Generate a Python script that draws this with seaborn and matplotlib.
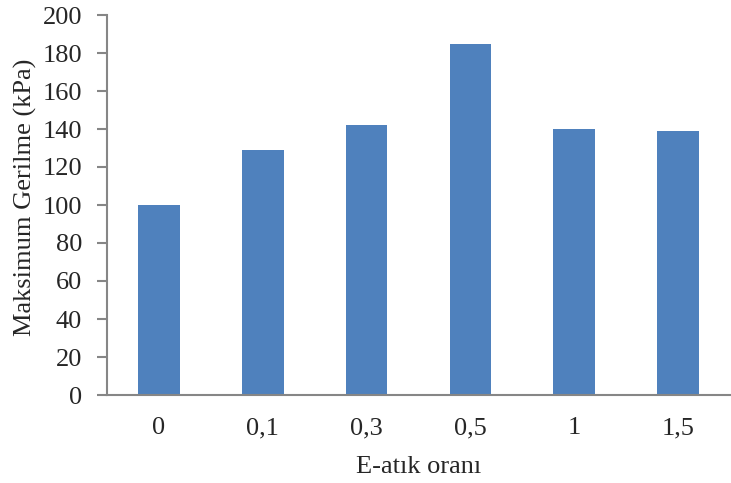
import matplotlib
matplotlib.use("Agg")
import matplotlib.pyplot as plt
import seaborn as sns
import pandas as pd

oranlar = ["0", "0,1", "0,3", "0,5", "1", "1,5"]
gerilme = [100, 129, 142, 185, 140, 139]
y_ticks = list(range(0, 201, 20))

sns.set_theme(style="white")
plt.rcParams["font.family"] = ["Liberation Serif", "DejaVu Serif"]

df = pd.DataFrame({"oran": oranlar, "gerilme": gerilme})

fig = plt.figure(figsize=(7.31, 4.83), dpi=100)
ax = fig.add_axes([107 / 731, 1 - 395 / 483, (730 - 107) / 731, (395 - 15) / 483])

sns.barplot(data=df, x="oran", y="gerilme", color="#4F81BD", saturation=1,
            width=0.4, ax=ax, edgecolor="none")

ax.set_ylim(0, 200)
ax.set_xlim(-0.5, 5.5)
ax.set_yticks(y_ticks)
ax.tick_params(axis="y", direction="out", length=7, width=1.5, color="#868686",
               labelsize=19, pad=11, left=True)
ax.tick_params(axis="x", length=0, labelsize=19, pad=16)
for s in ["top", "right"]:
    ax.spines[s].set_visible(False)
for s in ["left", "bottom"]:
    ax.spines[s].set_color("#868686")
    ax.spines[s].set_linewidth(1.5)

ax.set_xlabel("E-atık oranı", fontsize=19, labelpad=12)
ax.set_ylabel("Maksimum Gerilme (kPa)", fontsize=19)
ax.yaxis.set_label_coords(-0.113, 0.52)

fig.savefig("out.png", dpi=100)
